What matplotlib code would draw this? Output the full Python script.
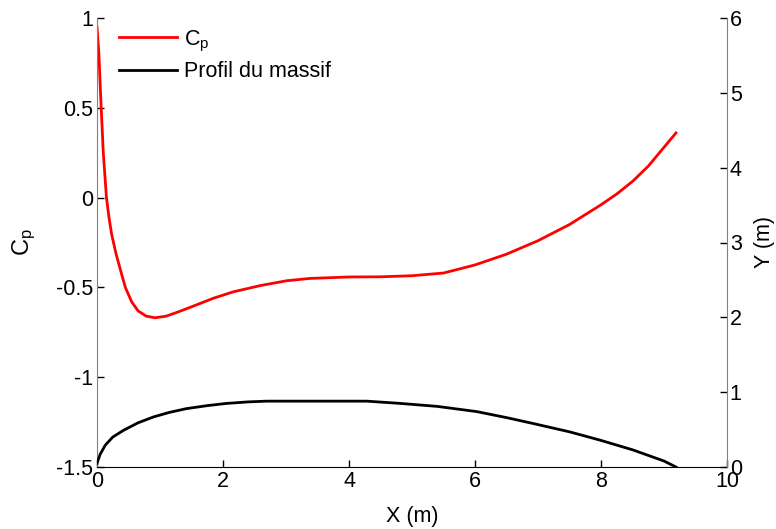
import matplotlib
matplotlib.use("Agg")
import matplotlib.pyplot as plt
import numpy as np

plt.rcParams['font.family'] = ['Liberation Sans', 'DejaVu Sans']
plt.rcParams['mathtext.fontset'] = 'custom'
plt.rcParams['mathtext.rm'] = 'Liberation Sans'
plt.rcParams['mathtext.it'] = 'Liberation Sans'

# Pressure coefficient along the hill
x_cp = [0.0, 0.03, 0.06, 0.10, 0.15, 0.19, 0.23, 0.30, 0.37, 0.45, 0.55, 0.65, 0.78, 0.92,
        1.10, 1.30, 1.53, 1.85, 2.16, 2.59, 3.01, 3.38, 4.0, 4.5, 5.0, 5.5, 6.0, 6.5,
        7.0, 7.5, 7.75, 8.0, 8.25, 8.5, 8.75, 9.0, 9.19]
cp = [0.95, 0.80, 0.55, 0.25, 0.00, -0.11, -0.20, -0.31, -0.40, -0.50, -0.58, -0.63, -0.66, -0.669,
      -0.66, -0.635, -0.604, -0.56, -0.525, -0.49, -0.463, -0.45, -0.442, -0.441, -0.435, -0.42, -0.375, -0.315,
      -0.24, -0.15, -0.095, -0.04, 0.02, 0.09, 0.175, 0.28, 0.36]

# Hill profile
x_prof = [0.0, 0.05, 0.13, 0.25, 0.42, 0.65, 0.90, 1.15, 1.42, 1.75, 2.06, 2.4, 2.69,
          3.2, 3.7, 4.28, 4.81, 5.4, 6.03, 6.5, 6.93, 7.5, 7.98, 8.5, 9.0, 9.19]
y_prof = [0.05, 0.17, 0.29, 0.40, 0.49, 0.59, 0.67, 0.73, 0.78, 0.82, 0.85, 0.87, 0.88,
          0.88, 0.88, 0.88, 0.85, 0.81, 0.74, 0.66, 0.58, 0.47, 0.36, 0.23, 0.08, 0.0]

fig = plt.figure(figsize=(7.76, 5.29), dpi=100)
ax = fig.add_axes([97/776, 62/529, 630/776, 449/529])
ax2 = ax.twinx()

l1, = ax.plot(x_cp, cp, color='#ff0000', lw=2, label=r'C$_\mathregular{p}$')
l2, = ax2.plot(x_prof, y_prof, color='black', lw=2, label='Profil du massif')

ax.set_xlim(0, 10)
ax.set_ylim(-1.5, 1)
ax2.set_ylim(0, 6)
ax.set_xticks([0, 2, 4, 6, 8, 10])
ax.set_yticks([-1.5, -1, -0.5, 0, 0.5, 1])
ax.set_yticklabels(['-1.5', '-1', '-0.5', '0', '0.5', '1'])
ax2.set_yticks([0, 1, 2, 3, 4, 5, 6])

fs = 15.5
for a in (ax, ax2):
    a.spines['top'].set_visible(False)
    a.tick_params(direction='in', length=5, labelsize=fs, width=1, pad=3)
ax2.tick_params(pad=2)
ax.spines['left'].set_color('#808080')
ax.spines['right'].set_visible(False)
ax2.spines['left'].set_visible(False)
ax2.spines['bottom'].set_visible(False)
ax2.spines['right'].set_color('#808080')
ax.spines['bottom'].set_color('black')

ax.set_xlabel('X (m)', fontsize=fs, labelpad=10)
ax.set_ylabel(r'C$_\mathregular{p}$', fontsize=17, labelpad=13)
ax2.set_ylabel('Y (m)', fontsize=fs, labelpad=9)

ax.legend(handles=[l1, l2], loc='upper left', frameon=False, fontsize=fs,
          handlelength=2.65, handletextpad=0.35, labelspacing=0.35,
          borderaxespad=0.0, bbox_to_anchor=(0.022, 0.996))

fig.savefig('out.png', dpi=100)
